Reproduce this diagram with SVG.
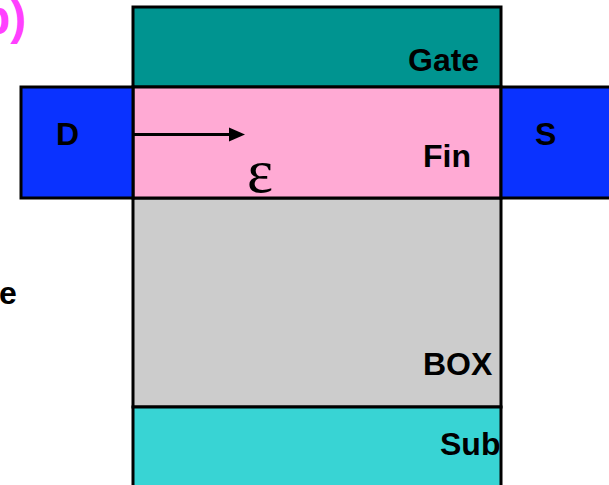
<svg xmlns="http://www.w3.org/2000/svg" width="609" height="485" viewBox="0 0 609 485">
<style>
.box{stroke:#000;stroke-width:3}
.lbl{font-family:"Liberation Sans",Arial,sans-serif;font-weight:bold;font-size:32px;fill:#000}
</style>
<rect width="609" height="485" fill="#fff"/>
<text x="-19" y="34" style="font-family:'Liberation Sans',Arial,sans-serif;font-weight:bold;font-size:48px;fill:#FF40FF">b)</text>
<text x="-1" y="304" class="lbl">e</text>
<g id="gate"><rect class="box" x="133" y="7" width="368" height="80" fill="#009490"/><text class="lbl" x="408" y="71">Gate</text></g>
<g id="box"><rect class="box" x="133" y="198" width="368" height="209" fill="#CCCCCC"/><text class="lbl" x="423" y="375">BOX</text></g>
<g id="sub"><rect class="box" x="133" y="407" width="368" height="90" fill="#38D4D4"/><text class="lbl" x="440" y="455">Sub</text></g>
<g id="fin"><rect class="box" x="133" y="87" width="368" height="111" fill="#FFAAD4"/><text class="lbl" x="423" y="167">Fin</text><text x="247" y="192" style="font-family:'Liberation Serif','Times New Roman',serif;font-size:62px;fill:#000">ε</text></g>
<g id="drain"><rect class="box" x="21" y="87" width="112" height="111" fill="#0A32FF"/><text class="lbl" x="56" y="145">D</text></g>
<g id="source"><rect class="box" x="501" y="87" width="120" height="111" fill="#0A32FF"/><text class="lbl" x="535" y="145">S</text></g>
<g id="connectors"><line x1="134" y1="134.5" x2="230" y2="134.5" stroke="#000" stroke-width="3"/><path d="M229,127.5 L245,134.5 L229,141.5 z" fill="#000"/></g>
</svg>
